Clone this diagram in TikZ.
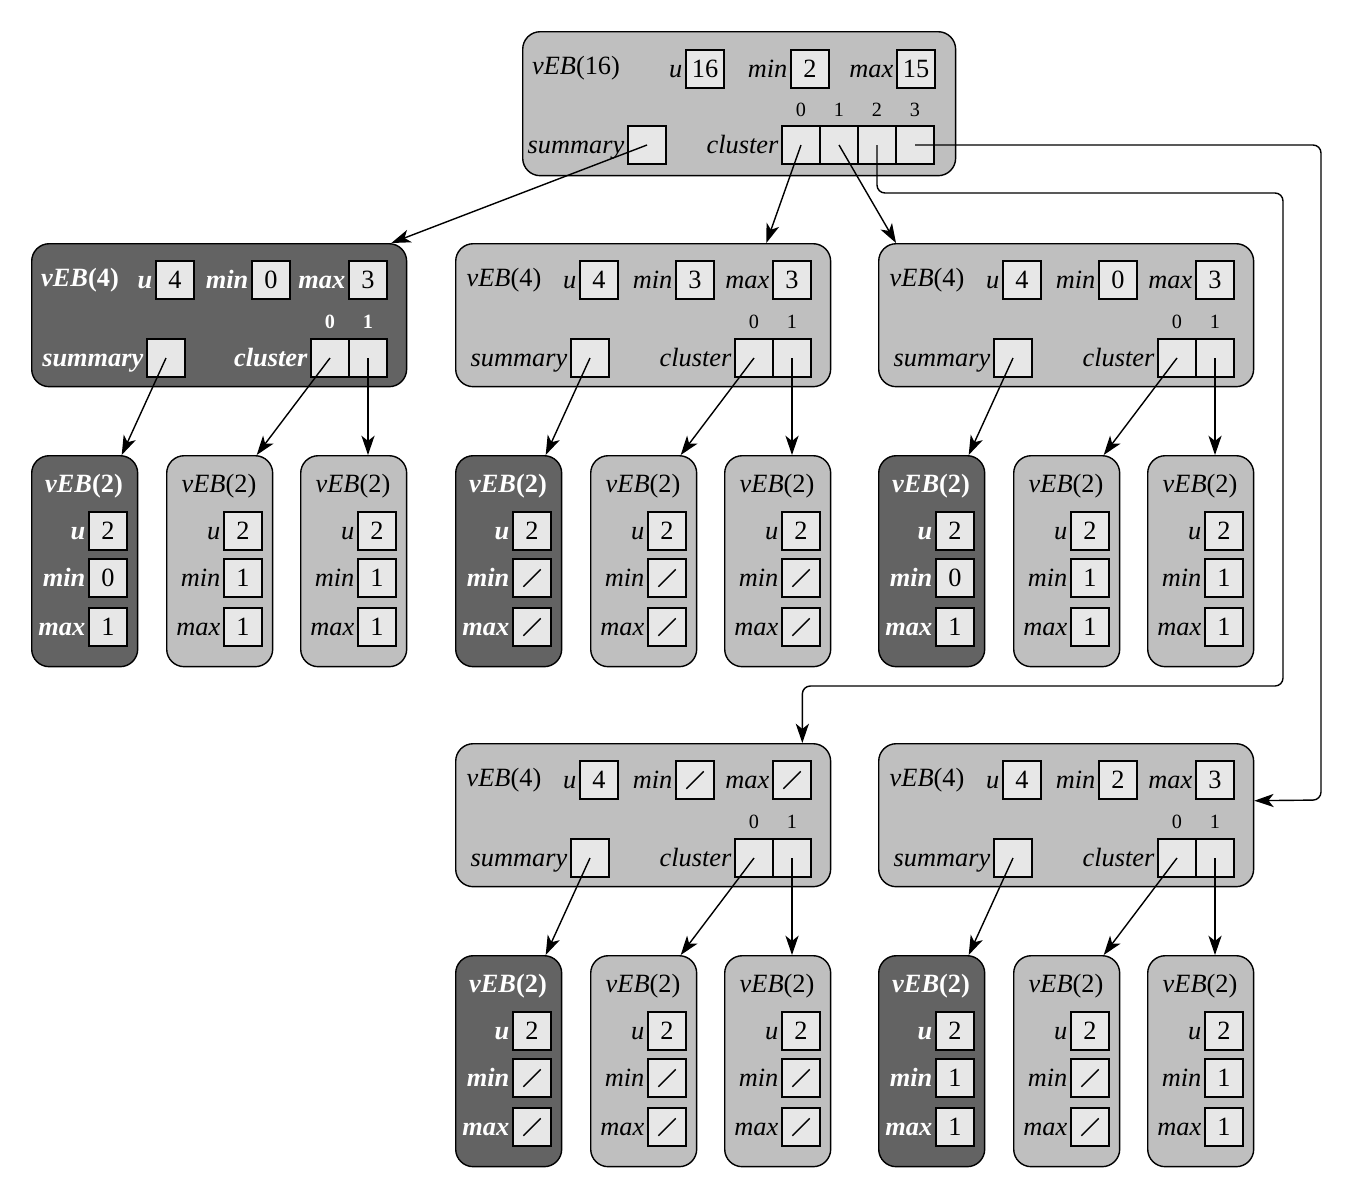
\documentclass[tikz,border=0pt]{standalone}
\usepackage{color}
\usepackage{ifthen}
\usepackage{fontspec}
\setmainfont{Liberation Serif}
\usepackage{tikz}
\usetikzlibrary{shapes,arrows.meta,calc}
\definecolor{lightcell}{RGB}{191,191,191}
\definecolor{darkcell}{RGB}{99,99,99}
\definecolor{boxcell}{RGB}{231,231,231}
\newcommand{\bigfont}{\fontsize{15}{18}\selectfont}
\newcommand{\smallfont}{\fontsize{11.5}{13}\selectfont}
\tikzstyle{arrow} = [line width=0.8pt,-{Stealth[length=11pt,width=7.5pt,inset=3pt]}]
\tikzstyle{lightnode} = [rectangle, rounded corners=0.35cm, draw=black, line width=0.8pt, fill=lightcell, anchor=north west, inner sep=0pt]
\tikzstyle{darknode} = [lightnode, fill=darkcell]
\tikzstyle{valbox} = [rectangle, draw=black, line width=0.8pt, fill=boxcell, minimum size=0.76cm, inner sep=0pt, font=\bigfont, text=black]
\tikzstyle{nilbox} = [valbox, path picture={\draw[line width=0.8pt] ($(path picture bounding box.south west)!0.27!(path picture bounding box.north east)$) -- ($(path picture bounding box.south west)!0.73!(path picture bounding box.north east)$);}]
\tikzstyle{lightlab} = [anchor=east, inner sep=1.5pt, text height=10pt, text depth=0pt, font=\bigfont\itshape]
\tikzstyle{darklab} = [lightlab, font=\bigfont\bfseries\itshape, text=white]
\tikzstyle{lighttitle} = [font=\bigfont]
\tikzstyle{darktitle} = [font=\bigfont\bfseries, text=white]
\tikzstyle{lightidx} = [font=\smallfont]
\tikzstyle{darkidx} = [font=\smallfont\bfseries, text=white]

% a box with a value, or a slashed box for "-"
\newcommand{\cell}[4]{%
  \ifthenelse{\equal{#4}{-}}
    {\node (#1) [nilbox] at ({#2},{#3}) {};}
    {\node (#1) [valbox] at ({#2},{#3}) {#4};}}

% name, left, top, light/dark, min, max
\newcommand{\leaf}[6]{%
  \node (#1) [#4node, minimum width=2.12cm, minimum height=4.22cm] at (#2,#3) {};
  \node (#1t) [#4title] at ({#2+53},{#3+31}) {\textit{vEB}(2)};
  \cell{#1u}{#2+77}{#3+76}{2}
  \cell{#1min}{#2+77}{#3+123}{#5}
  \cell{#1max}{#2+77}{#3+172}{#6}
  \node (#1ul) [#4lab] at (#1u.west) {u};
  \node (#1minl) [#4lab] at (#1min.west) {min};
  \node (#1maxl) [#4lab] at (#1max.west) {max};
}

% name, left, top, light/dark, min, max
\newcommand{\vebfour}[6]{%
  \node (#1) [#4node, minimum width=7.5cm, minimum height=2.86cm] at (#2,#3) {};
  \node (#1t) [#4title] at ({#2+49},{#3+37}) {\textit{vEB}(4)};
  \cell{#1u}{#2+144}{#3+37}{4}
  \cell{#1min}{#2+240}{#3+37}{#5}
  \cell{#1max}{#2+337}{#3+37}{#6}
  \cell{#1s}{#2+135}{#3+115}{}
  \cell{#1c0}{#2+299}{#3+115}{}
  \cell{#1c1}{#2+337}{#3+115}{}
  \node (#1ul) [#4lab] at (#1u.west) {u};
  \node (#1minl) [#4lab] at (#1min.west) {min};
  \node (#1maxl) [#4lab] at (#1max.west) {max};
  \node (#1sl) [#4lab] at (#1s.west) {summary};
  \node (#1cl) [#4lab] at (#1c0.west) {cluster};
  \node (#1i0) [#4idx] at ({#2+299},{#3+79}) {0};
  \node (#1i1) [#4idx] at ({#2+337},{#3+79}) {1};
}

% parent, then its three leaves
\newcommand{\kids}[4]{%
  \draw [arrow] (#1s.center) -- ([xshift=0.74cm]#2.north);
  \draw [arrow] (#1c0.center) -- ([xshift=0.74cm]#3.north);
  \draw [arrow] (#1c1.center) -- (#1c1.center |- #4.north);
}

\begin{document}
\begin{tikzpicture}[x=0.02cm, y=-0.02cm]
    \useasboundingbox (0,0) rectangle (1352,1198);

    \node (V16) [lightnode, minimum width=8.66cm, minimum height=2.88cm] at (522,31) {};
    \node (V16t) [lighttitle] at (576,68) {\textit{vEB}(16)};
    \cell{V16u}{705}{69}{16}
    \cell{V16min}{810}{69}{2}
    \cell{V16max}{916}{69}{15}
    \cell{V16s}{647}{145}{}
    \cell{V16c0}{801}{145}{}
    \cell{V16c1}{839}{145}{}
    \cell{V16c2}{877}{145}{}
    \cell{V16c3}{915}{145}{}
    \node (V16ul) [lightlab] at (V16u.west) {u};
    \node (V16minl) [lightlab] at (V16min.west) {min};
    \node (V16maxl) [lightlab] at (V16max.west) {max};
    \node (V16sl) [lightlab] at (V16s.west) {summary};
    \node (V16cl) [lightlab] at (V16c0.west) {cluster};
    \node (V16i0) [lightidx] at (801,110) {0};
    \node (V16i1) [lightidx] at (839,110) {1};
    \node (V16i2) [lightidx] at (877,110) {2};
    \node (V16i3) [lightidx] at (915,110) {3};

    \vebfour{A}{31}{243}{dark}{0}{3}
    \vebfour{B}{455}{243}{light}{3}{3}
    \vebfour{C}{878}{243}{light}{0}{3}
    \vebfour{D}{455}{743}{light}{-}{-}
    \vebfour{E}{878}{743}{light}{2}{3}

    \leaf{A1}{31}{455}{dark}{0}{1}
    \leaf{A2}{166}{455}{light}{1}{1}
    \leaf{A3}{300}{455}{light}{1}{1}
    \leaf{B1}{455}{455}{dark}{-}{-}
    \leaf{B2}{590}{455}{light}{-}{-}
    \leaf{B3}{724}{455}{light}{-}{-}
    \leaf{C1}{878}{455}{dark}{0}{1}
    \leaf{C2}{1013}{455}{light}{1}{1}
    \leaf{C3}{1147}{455}{light}{1}{1}
    \leaf{D1}{455}{955}{dark}{-}{-}
    \leaf{D2}{590}{955}{light}{-}{-}
    \leaf{D3}{724}{955}{light}{-}{-}
    \leaf{E1}{878}{955}{dark}{1}{1}
    \leaf{E2}{1013}{955}{light}{-}{-}
    \leaf{E3}{1147}{955}{light}{1}{1}

    \draw [arrow] (V16s.center) -- ([xshift=-0.32cm]A.north east);
    \draw [arrow] (V16c0.center) -- ([xshift=-1.3cm]B.north east);
    \draw [arrow] (V16c1.center) -- ([xshift=0.36cm]C.north west);
    \coordinate (turnA) at (1283,193);
    \coordinate (turnB) at (1283,686);
    \coordinate (turnC) at (1321,800);
    \draw [arrow, rounded corners=0.16cm] (V16c2.center) |- (turnA) -- (turnB) -| ([xshift=-0.58cm]D.north east);
    \draw [arrow, rounded corners=0.16cm] (V16c3.center) -| (turnC) -- ([yshift=0.29cm]E.east);

    \kids{A}{A1}{A2}{A3}
    \kids{B}{B1}{B2}{B3}
    \kids{C}{C1}{C2}{C3}
    \kids{D}{D1}{D2}{D3}
    \kids{E}{E1}{E2}{E3}

\end{tikzpicture}
\end{document}
